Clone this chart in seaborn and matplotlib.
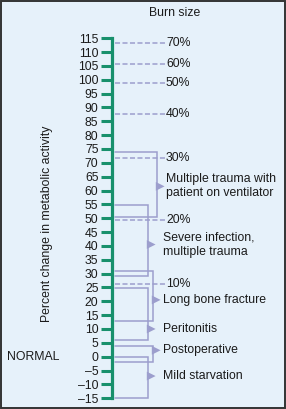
import matplotlib
matplotlib.use("Agg")
import matplotlib.pyplot as plt
import seaborn as sns
import pandas as pd
from matplotlib.patches import Rectangle

# ---- data ----
tick_values = list(range(-15, 116, 5))
burn_labels = ['70%', '60%', '50%', '40%', '30%', '20%', '10%']
burn_values = [113.2, 105.6, 98.7, 87.7, 71.6, 49.2, 26.4]
conditions = ['Multiple trauma with\npatient on ventilator',
              'Severe infection,\nmultiple trauma',
              'Long bone fracture', 'Peritonitis', 'Postoperative',
              'Mild starvation']
cond_top = [73.8, 54.6, 31.0, 24.8, 4.0, 0.0]
cond_bottom = [50.6, 29.0, 13.0, 6.0, -1.8, -15.0]
cond_arrow = [61.5, 40.5, 20.5, 10.0, 2.3, -7.0]

# ---- style ----
sns.set_theme(style="white")
plt.rcParams['font.family'] = ['Liberation Sans', 'DejaVu Sans']
BG = '#e6f1fa'
GREEN = '#18906c'
LAV = '#9c9ecd'
TXT = '#1a1a1a'
FS = 8.8

fig = plt.figure(figsize=(2.86, 4.09), dpi=100, facecolor=BG)
ax = fig.add_axes([0, 0, 1, 1], facecolor=BG)
ax.set_xlim(0, 286)
ax.set_ylim(-18.9, 128.8)

# axis (scale) on the left spine
for s in ['top', 'right', 'bottom']:
    ax.spines[s].set_visible(False)
ax.spines['left'].set_position(('data', 111.5))
ax.spines['left'].set_bounds(-15, 115)
ax.spines['left'].set_color(GREEN)
ax.spines['left'].set_linewidth(2.3)
ax.set_yticks(tick_values)
ax.set_yticklabels([str(v).replace('-', '\u2013') for v in tick_values])
ax.tick_params(axis='y', direction='out', length=8, width=2.2, color=GREEN,
               pad=1.4, labelsize=FS, labelcolor=TXT, left=True)
ax.set_xticks([])

# burn size dashed lines
x0, xd = 115, 165
for lab, v in zip(burn_labels, burn_values):
    ax.plot([x0, xd], [v, v], color=LAV, lw=1.1, ls=(0, (3.3, 1.6)))
    ax.text(xd + 1, v, lab, fontsize=FS, color=TXT, va='center', ha='left')

# condition brackets
xv = [157, 148, 153, 148, 153, 148]
xt = [166.5, 163.3, 163.3, 163.3, 163.3, 163.3]
arrows = []
for name, t, b, a, x, tx in zip(conditions, cond_top, cond_bottom, cond_arrow, xv, xt):
    ax.plot([x0, x, x, x0], [t, t, b, b], color=LAV, lw=1.1, solid_joinstyle='miter')
    arrows.append({'x': x + 3.2, 'y': a})
    ax.text(tx, a, name, fontsize=FS, color=TXT, va='center', ha='left',
            linespacing=1.25)
adf = pd.DataFrame(arrows)
sns.scatterplot(data=adf, x='x', y='y', marker='>', s=40, color=LAV,
                edgecolor='none', ax=ax, legend=False)
ax.set_xlabel('')
ax.set_ylabel('')

# titles / labels
ax.text(175, 124, 'Burn size', fontsize=FS, color=TXT, ha='center', va='center')
ax.text(47.5, 47.9, 'Percent change in metabolic activity', fontsize=FS,
        color=TXT, rotation=90, ha='center', va='center')
ax.text(7.5, 0, 'NORMAL', fontsize=FS, color=TXT, ha='left', va='center')

# outer frame
fig.patches.append(Rectangle((0.002, 0.0015), 0.996, 0.997, transform=fig.transFigure,
                             fill=False, edgecolor='#333333', lw=1.4))

fig.savefig('out.png', dpi=100, facecolor=BG)
